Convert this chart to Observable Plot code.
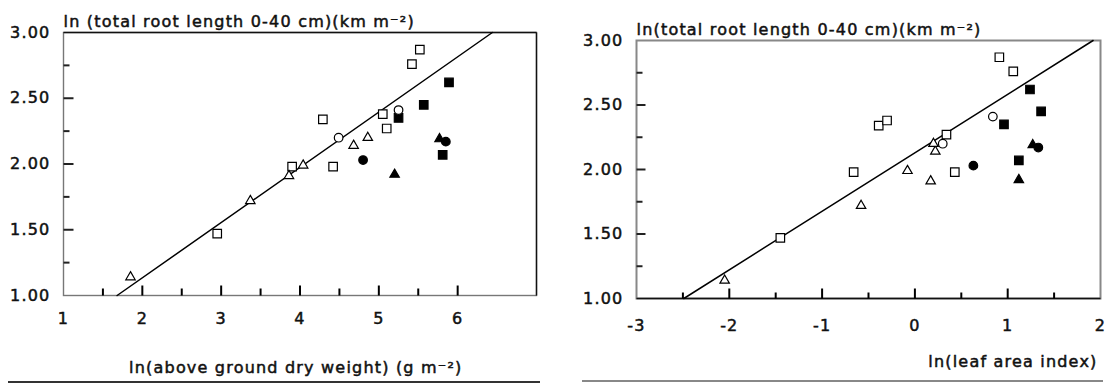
<!DOCTYPE html>
<html><head><meta charset="utf-8">
<script src="https://cdn.jsdelivr.net/npm/d3@7"></script>
<script src="https://cdn.jsdelivr.net/npm/@observablehq/plot@0.6"></script>
<style>
body{margin:0;background:#fff;}
#wrap{position:relative;width:1111px;height:385px;overflow:hidden;background:#fff;}
#left{position:absolute;left:0;top:0;}
#right{position:absolute;left:560px;top:0;}
.hr{position:absolute;height:2px;}
svg text{stroke:#111;stroke-width:0.5px;paint-order:stroke;}
</style>
</head><body>
<div id="wrap">
  <div id="left"></div>
  <div id="right"></div>
  <div class="hr" style="left:8px;width:532px;top:381px;background:#333;"></div>
  <div class="hr" style="left:582px;width:521px;top:380px;background:#888;"></div>
</div>
<script>
// ---- data ----
const symbols = ["triangle","triangle","triangle","triangle","triangle","triangle",
  "square","square","square","square","square","square","square","square",
  "circle","circle","circle","circle","triangle","triangle","square","square","square","square"];
const filled = [false,false,false,false,false,false,
  false,false,false,false,false,false,false,false,
  false,false,true,true,true,true,true,true,true,true];
const rootLength = [1.14,1.72,1.91,1.99,2.14,2.20,
  1.47,1.98,1.98,2.27,2.34,2.38,2.76,2.87,
  2.20,2.41,2.03,2.17,1.92,2.19,2.07,2.35,2.45,2.62];
const dryWeight = [1.85,3.37,3.86,4.04,4.68,4.86,
  2.95,3.90,4.42,5.10,4.29,5.05,5.42,5.52,
  4.49,5.25,4.80,5.85,5.20,5.77,5.81,5.25,5.57,5.89];
const leafAreaIndex = [-2.05,-0.58,0.17,-0.08,0.22,0.20,
  -1.45,-0.66,0.43,0.34,-0.39,-0.30,1.06,0.91,
  0.30,0.84,0.63,1.33,1.12,1.27,1.12,0.96,1.36,1.24];
const fitDryX = [1.68, 6.44], fitDryY = [1.00, 3.00];
const fitLaiX = [-2.49, 1.92], fitLaiY = [1.00, 3.00];
const yTicks = [1.00, 1.50, 2.00, 2.50, 3.00];
const yMinorTicks = [1.25, 1.75, 2.25, 2.75];
const xTicksLeft = [1, 2, 3, 4, 5, 6];
const xMinorLeft = [1.5, 2.5, 3.5, 4.5, 5.5];
const xTicksRight = [-3, -2, -1, 0, 1, 2];
const xMinorRight = [-2.5, -1.5, -0.5, 0.5, 1.5];
const yTitleLeft = "ln (total root length 0-40 cm)(km m\u207B\u00B2)";
const yTitleRight = "ln(total root length 0-40 cm)(km m\u207B\u00B2)";
const xTitleLeft = "ln(above ground dry weight) (g m\u207B\u00B2)";
const xTitleRight = "ln(leaf area index)";

const rows = rootLength.map((y, i) => ({y, dw: dryWeight[i], lai: leafAreaIndex[i], sym: symbols[i], fillc: filled[i] ? "black" : "white"}));
const fitDry = fitDryX.map((x, i) => ({x, y: fitDryY[i]}));
const fitLai = fitLaiX.map((x, i) => ({x, y: fitLaiY[i]}));

const font = {fontFamily: "'DejaVu Sans', sans-serif", fontSize: "16px", letterSpacing: "1.2px", color: "#111", background: "transparent", overflow: "visible"};
const symR = {square: 4.8, circle: 4.3, triangle: 3.5};

function dots(xKey) {
  return ["square","circle","triangle"].map(s => Plot.dot(rows.filter(d => d.sym === s), {
    x: xKey, y: "y", symbol: s, r: symR[s], fill: "fillc", stroke: "black", strokeWidth: 1.2
  }));
}

function panel(o) {
  const fw = o.width - o.ml - o.mr, fh = o.height - o.mt - o.mb;
  const [x0, x1] = o.xDomain;
  const ux = (x1 - x0) / fw, uy = 2 / fh; // data units per pixel
  const tickRowsX = o.xTicks.filter(d => d > x0 && d < x1).map(v => ({v, len: o.xMajor}))
    .concat(o.xMinor.map(v => ({v, len: o.xMinorLen})));
  const tickRowsY = yTicks.filter(d => d > 1 && d < 3).map(v => ({v, len: o.yMajor}))
    .concat(yMinorTicks.map(v => ({v, len: o.yMinorLen})));
  return Plot.plot({
    width: o.width, height: o.height,
    marginLeft: o.ml, marginRight: o.mr, marginTop: o.mt, marginBottom: o.mb,
    style: font,
    color: {type: "identity"},
    x: {domain: o.xDomain, axis: null},
    y: {domain: [1, 3], axis: null},
    marks: [
      Plot.frame({stroke: o.frameStroke, strokeWidth: o.frameWidth}),
      o.darkTopRight ? Plot.link([0], {x1: () => x0, x2: () => x1, y1: () => 3, y2: () => 3, stroke: "#111", strokeWidth: 1.4}) : null,
      o.darkTopRight ? Plot.link([0], {x1: () => x1, x2: () => x1, y1: () => 1, y2: () => 3, stroke: "#111", strokeWidth: 1.4}) : null,
      o.baseRule ? Plot.link([0], {x1: () => x0, x2: () => x1, y1: () => 1, y2: () => 1, stroke: "#111", strokeWidth: 1.6}) : null,
      Plot.link(tickRowsX, {x1: "v", x2: "v", y1: () => 1, y2: d => 1 + d.len * uy, stroke: "black", strokeWidth: 2}),
      Plot.link(tickRowsY, {y1: "v", y2: "v", x1: () => x0, x2: d => x0 + d.len * ux, stroke: "#222", strokeWidth: 2}),
      Plot.axisX(o.xTicks, {tickSize: 0, tickPadding: o.xPad, label: null, tickFormat: d => String(d)}),
      Plot.axisY(yTicks, {anchor: "left", tickSize: 0, tickPadding: 13, label: null, tickFormat: d3.format(".2f")}),
      Plot.line(o.fit, {x: "x", y: "y", stroke: "black", strokeWidth: 1.5}),
      ...dots(o.xKey),
      Plot.text([o.yTitle], {frameAnchor: "top-left", textAnchor: "start", lineAnchor: "middle", dy: o.yTitleDy, text: d => d, fill: "#111"}),
      Plot.text([o.xTitle], {frameAnchor: "bottom-right", textAnchor: "end", lineAnchor: "middle", dx: o.xTitleDx, dy: o.xTitleDy, text: d => d, fill: "#111"})
    ].filter(Boolean)
  });
}

document.getElementById("left").append(panel({
  width: 560, height: 385, ml: 63, mr: 24, mt: 32, mb: 90,
  xDomain: [1, 7], xKey: "dw", fit: fitDry,
  xTicks: xTicksLeft, xMinor: xMinorLeft, xMajor: 10, xMinorLen: 7,
  yMajor: 10, yMinorLen: 6, xPad: 17,
  frameStroke: "#777", frameWidth: 1.4, baseRule: false, darkTopRight: true,
  yTitle: yTitleLeft, yTitleDy: -11,
  xTitle: xTitleLeft, xTitleDx: -74, xTitleDy: 72
}));

document.getElementById("right").append(panel({
  width: 551, height: 385, ml: 76, mr: 11, mt: 40, mb: 87,
  xDomain: [-3, 2], xKey: "lai", fit: fitLai,
  xTicks: xTicksRight, xMinor: xMinorRight, xMajor: 10, xMinorLen: 6,
  yMajor: 9, yMinorLen: 6, xPad: 21,
  frameStroke: "#888", frameWidth: 2, baseRule: true, darkTopRight: false,
  yTitle: yTitleRight, yTitleDy: -11,
  xTitle: xTitleRight, xTitleDx: -3, xTitleDy: 63
}));
</script>
</body></html>
